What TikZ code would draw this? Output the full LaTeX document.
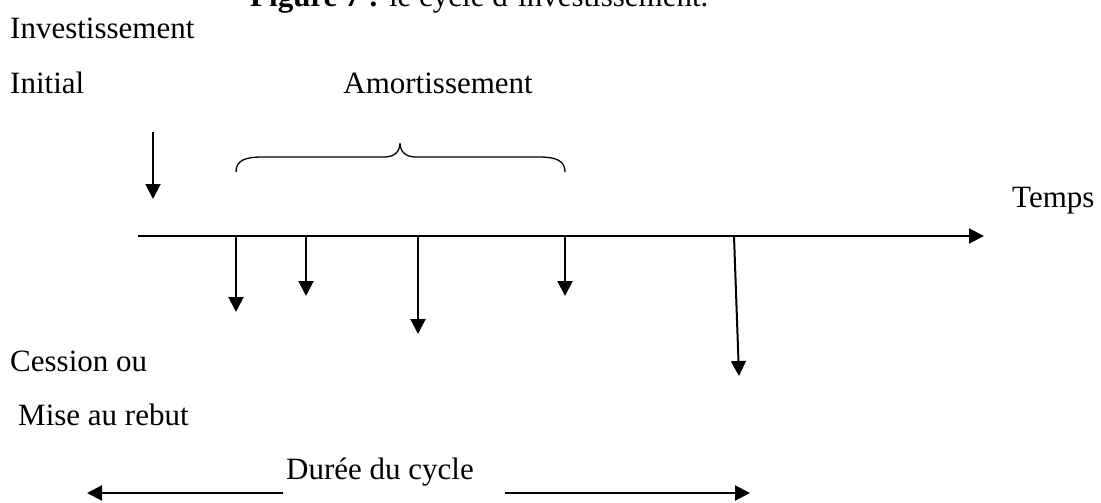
\documentclass[tikz,border=0pt]{standalone}
\usepackage{fontspec}
\setmainfont{Liberation Serif}
\usetikzlibrary{arrows.meta}
\begin{document}
\begin{tikzpicture}[x=1pt,y=-1pt,
  lbl/.style={inner sep=0pt,font=\fontsize{31}{37}\selectfont},
  arr/.style={line width=2pt,-{Triangle[length=15pt,width=15pt]}},
  bracestyle/.style={line width=1.3pt}]
\useasboundingbox[fill=white] (0,0) rectangle (1101,503);
% title (cut at top)
\node[lbl,anchor=base west] (title) at (250,7) {\textbf{Figure 7 :} le cycle d'investissement.};
% labels
\node[lbl,anchor=base west] (inv) at (10,39) {Investissement};
\node[lbl,anchor=base west] (ini) at (10,93) {Initial};
\node[lbl,anchor=base east] (amo) at (533,93) {Amortissement};
\node[lbl,anchor=base west] (tps) at (1012,207) {Temps};
\node[lbl,anchor=base west] (ces) at (10,371) {Cession ou};
\node[lbl,anchor=base west] (mis) at (18,425) {Mise au rebut};
\node[lbl,anchor=base west] (dur) at (286,479) {Durée du cycle};
% coordinates
\coordinate (a0s) at (153,132); \coordinate (a0e) at (153,199);
\coordinate (axs) at (138,236); \coordinate (axe) at (984,236);
\coordinate (a1s) at (236,236); \coordinate (a1e) at (236,312);
\coordinate (a2s) at (306,236); \coordinate (a2e) at (306,296);
\coordinate (a3s) at (418,236); \coordinate (a3e) at (418,334);
\coordinate (a4s) at (565,236); \coordinate (a4e) at (565,296);
\coordinate (a5s) at (734,236); \coordinate (a5e) at (739,376);
\coordinate (bls) at (283,493); \coordinate (ble) at (87,493);
\coordinate (brs) at (505,493); \coordinate (bre) at (750,493);
\coordinate (brL) at (236,172); \coordinate (brR) at (565,172); \coordinate (brT) at (400,143);
% arrows
\draw[arr] (a0s) -- (a0e);
\draw[arr] (axs) -- (axe);
\draw[arr] (a1s) -- (a1e);
\draw[arr] (a2s) -- (a2e);
\draw[arr] (a3s) -- (a3e);
\draw[arr] (a4s) -- (a4e);
\draw[arr] (a5s) -- (a5e);
\draw[arr] (bls) -- (ble);
\draw[arr] (brs) -- (bre);
% brace
\draw[bracestyle] (brL) .. controls (236,160) and (246,157) .. (262,157)
  -- (384,157) .. controls (394,157) and (400,152) .. (brT)
  .. controls (400,152) and (406,157) .. (416,157)
  -- (539,157) .. controls (555,157) and (565,160) .. (brR);
\end{tikzpicture}
\end{document}
